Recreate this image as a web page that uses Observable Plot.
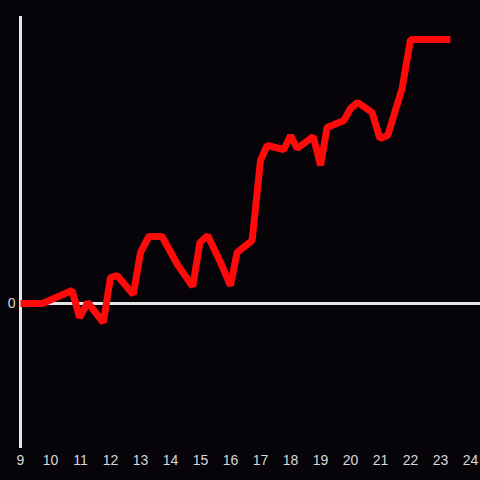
<!DOCTYPE html>
<html>
<head>
<meta charset="utf-8">
<script src="https://cdn.jsdelivr.net/npm/d3@7"></script>
<script src="https://cdn.jsdelivr.net/npm/@observablehq/plot@0.6"></script>
<style>
  html, body { margin: 0; padding: 0; background: #060408; }
  #chart { width: 480px; height: 480px; }
</style>
</head>
<body>
<div id="chart"></div>
<script>
const hours = [9, 9.73, 10.72, 10.97, 11.24, 11.76, 12.0, 12.22, 12.76, 13.0, 13.28, 13.72, 14.23, 14.74, 14.98, 15.24, 15.67, 16.0, 16.22, 16.72, 17.0, 17.22, 17.78, 18.0, 18.22, 18.76, 19.0, 19.22, 19.78, 20.0, 20.24, 20.72, 20.98, 21.24, 21.72, 22.0, 23.33];
const values = [0, 0, 13, -14, 1, -19, 26, 28, 9, 51, 67, 67, 39, 17, 61, 68, 41, 18, 51, 63, 143, 158, 154, 168, 155, 167, 138, 176, 183, 195, 201, 191, 165, 168, 215, 264, 264];
const xTicks = [9, 10, 11, 12, 13, 14, 15, 16, 17, 18, 19, 20, 21, 22, 23, 24];
const yTicks = [0];

const data = hours.map((h, i) => ({x: h, y: values[i]}));

const chart = Plot.plot({
  width: 480,
  height: 480,
  marginLeft: 20,
  marginRight: 0,
  marginTop: 16,
  marginBottom: 32,
  style: {background: "#060408", color: "#d8d8d8", fontSize: "14px", fontFamily: "Liberation Sans, Arial, sans-serif"},
  x: {domain: [9, 24.3333], ticks: xTicks, tickSize: 0, tickPadding: 7, label: null},
  y: {domain: [-145, 287], ticks: yTicks, tickSize: 0, tickPadding: 5, label: null},
  marks: [
    Plot.ruleY([0], {stroke: "#e6e6e6", strokeWidth: 3}),
    Plot.ruleX([9], {stroke: "#e6e6e6", strokeWidth: 3}),
    Plot.line(data, {x: "x", y: "y", stroke: "#ff0a0a", strokeWidth: 7, strokeLinejoin: "miter", strokeLinecap: "butt"})
  ]
});
document.getElementById("chart").appendChild(chart);
</script>
</body>
</html>
